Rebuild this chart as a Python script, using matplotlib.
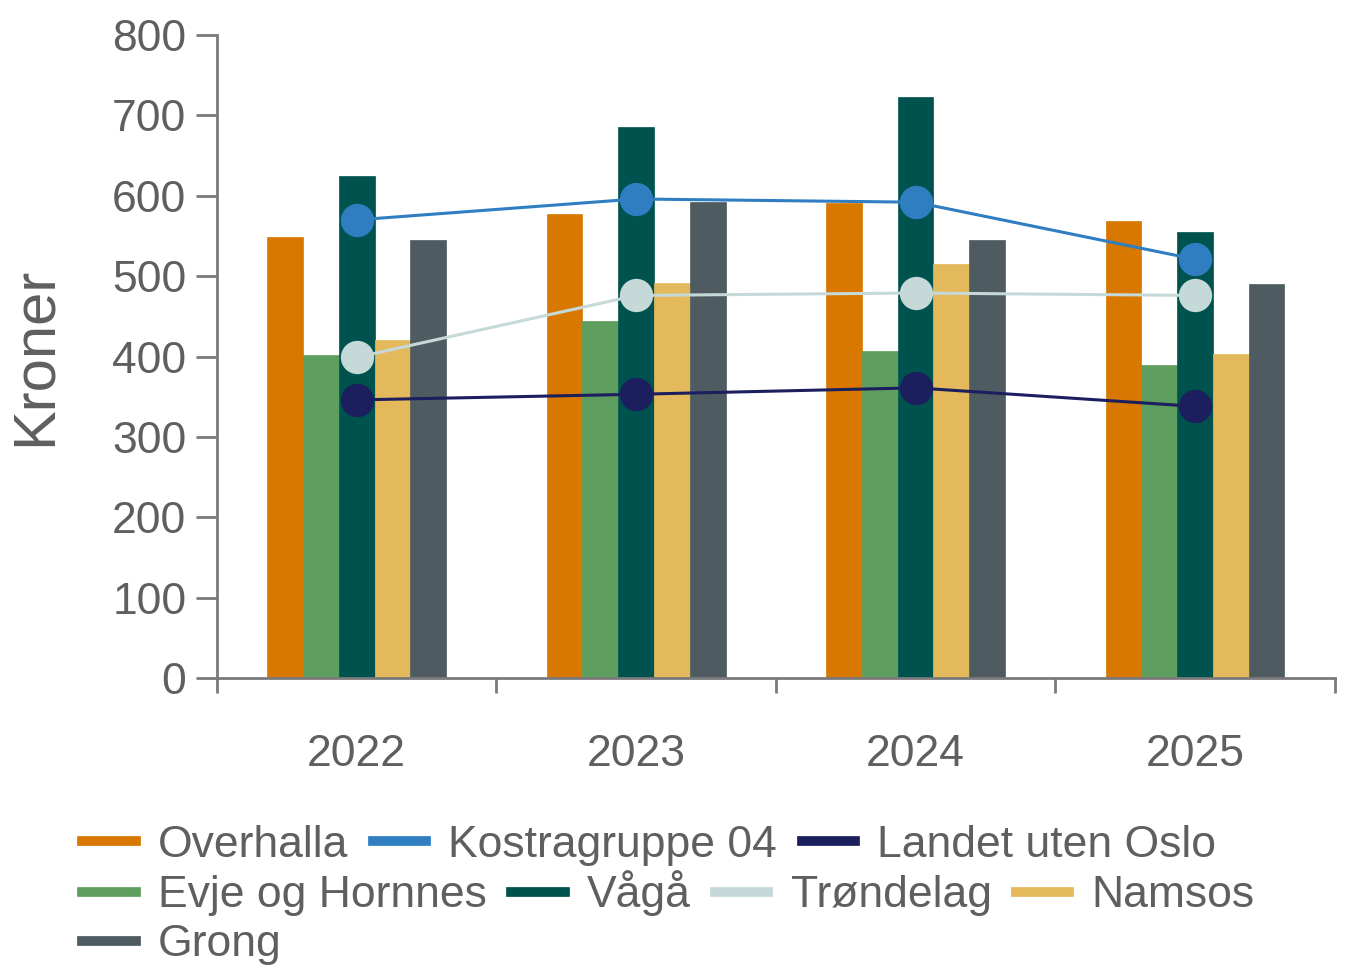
import numpy as np
import matplotlib
matplotlib.use("Agg")
import matplotlib.pyplot as plt
from matplotlib.lines import Line2D
from matplotlib.ticker import FixedLocator

plt.rcParams["font.family"] = ["Liberation Sans", "DejaVu Sans"]

# ---------------------------------------------------------------------------
# Data
# ---------------------------------------------------------------------------
years = ["2022", "2023", "2024", "2025"]

bar_names  = ["Overhalla", "Evje og Hornnes", "Vågå", "Namsos", "Grong"]
overhalla  = [549, 577, 591, 569]
evje       = [402, 444, 407, 389]
vaga       = [624, 686, 723, 555]
namsos     = [421, 491, 515, 403]
grong      = [545, 592, 545, 490]
bar_values = [overhalla, evje, vaga, namsos, grong]
bar_colors = ["#D97800", "#5E9E5E", "#00524E", "#E4B95B", "#4E5B61"]

line_names  = ["Kostragruppe 04", "Trøndelag", "Landet uten Oslo"]
kostra      = [570, 596, 592, 521]
trondelag   = [399, 476, 479, 476]
landet      = [346, 353, 361, 338]
line_values = [kostra, trondelag, landet]
line_colors = ["#2F7EC1", "#C5D9D9", "#1B1F5E"]

colors = dict(zip(bar_names + line_names, bar_colors + line_colors))
legend_rows = [
    ["Overhalla", "Kostragruppe 04", "Landet uten Oslo"],
    ["Evje og Hornnes", "Vågå", "Trøndelag", "Namsos"],
    ["Grong"],
]

TEXT = "#5f5f5f"
AXIS = "#7a7a7a"

# ---------------------------------------------------------------------------
# Plot
# ---------------------------------------------------------------------------
fig = plt.figure(figsize=(13.51, 9.73), dpi=100)
ax = fig.add_axes([0.1606, 0.3032, 0.8274, 0.6608])

x = np.arange(len(years))
w = 0.128
for i, (vals, col) in enumerate(zip(bar_values, bar_colors)):
    ax.bar(x + (i - 2) * w, vals, width=w, color=col, edgecolor=col,
           linewidth=0.5, zorder=2)

for vals, col in zip(line_values, line_colors):
    ax.plot(x, vals, color=col, linewidth=2.2, marker="o", markersize=24,
            markeredgewidth=0, zorder=3)

ax.set_xlim(-0.5, 3.5)
ax.set_ylim(0, 800)
ax.set_yticks(range(0, 801, 100))
ax.set_xticks(x)
ax.set_xticklabels(years)
ax.xaxis.set_minor_locator(FixedLocator([-0.5, 0.5, 1.5, 2.5, 3.5]))

ax.tick_params(axis="y", length=15, width=2, color=AXIS, labelsize=32,
               labelcolor=TEXT, pad=7)
ax.tick_params(axis="x", which="major", length=0, labelsize=32,
               labelcolor=TEXT, pad=40)
ax.tick_params(axis="x", which="minor", length=11, width=2, color=AXIS)

for s in ["top", "right"]:
    ax.spines[s].set_visible(False)
for s in ["left", "bottom"]:
    ax.spines[s].set_color(AXIS)
    ax.spines[s].set_linewidth(2)

ax.set_ylabel("Kroner", fontsize=43, color=TEXT)
ax.yaxis.set_label_coords(-0.138, 0.5)

# flowing legend, one legend per row
row_y = [0.131, 0.082, 0.029]
for names, yy in zip(legend_rows, row_y):
    handles = [Line2D([0], [0], color=colors[n], linewidth=7) for n in names]
    leg = fig.legend(handles, names, loc="center left",
                     bbox_to_anchor=(0.061, yy), ncol=len(names),
                     frameon=False, fontsize=32, handlelength=1.2,
                     handletextpad=0.5, columnspacing=0.55,
                     borderaxespad=0, borderpad=0)
    for t in leg.get_texts():
        t.set_color(TEXT)

fig.savefig("out.png", dpi=100)
